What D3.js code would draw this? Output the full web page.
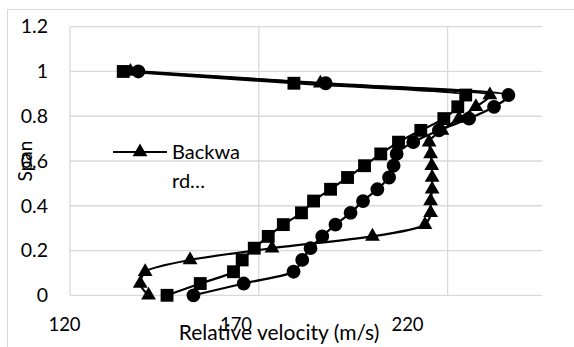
<!DOCTYPE html>
<html>
<head>
<meta charset="utf-8">
<script src="https://cdn.jsdelivr.net/npm/d3@7"></script>
<style>
  html, body { margin: 0; padding: 0; background: #fff; }
  svg { display: block; }
  text { font-family: Lato, "Open Sans", sans-serif; fill: #000; }
</style>
</head>
<body>
<svg id="chart" width="574" height="347"></svg>
<script>
// Span positions (0 .. 1 in 19 equal steps)
const span = [0, 0.0526, 0.1053, 0.1579, 0.2105, 0.2632, 0.3158, 0.3684, 0.4211, 0.4737,
              0.5263, 0.5789, 0.6316, 0.6842, 0.7368, 0.7895, 0.8421, 0.8947, 0.9474, 1];

// Relative velocity (m/s) per span position, one array per series
const squareVelocity   = [145.7, 154.5, 163.3, 165.6, 168.8, 172.5, 176.5, 181.3, 184.5, 189.0,
                          193.5, 198.0, 202.3, 207.0, 212.9, 219.0, 222.7, 224.8, 179.3, 134.1];
const circleVelocity   = [152.7, 166.0, 179.2, 181.5, 183.7, 186.8, 190.3, 194.3, 197.6, 201.4,
                          204.5, 205.7, 206.5, 210.9, 217.7, 225.7, 232.3, 236.1, 187.7, 138.1];
const backwardVelocity = [140.8, 138.6, 139.9, 151.8, 173.5, 200.1, 214.0, 215.5, 215.5, 215.9,
                          215.9, 215.8, 215.5, 215.1, 218.5, 223.0, 227.5, 231.2, 186.3, 136.0];

const xTicks = [120, 170, 220];
const yTicks = [0, 0.2, 0.4, 0.6, 0.8, 1, 1.2];
const legendLines = ["Backwa", "rd\u2026"];

const svg = d3.select("#chart");

const x = d3.scaleLinear().domain([120, 245]).range([70, 542]);
const y = d3.scaleLinear().domain([0, 1.2]).range([295.3, 26.7]);
// tick labels sit on their own, tighter spacing under the plot
const xLabel = d3.scaleLinear().domain([120, 220]).range([64, 407]);

// chart frame
svg.append("rect")
  .attr("x", 7.5).attr("y", 9.5).attr("width", 580).attr("height", 350)
  .attr("fill", "none").attr("stroke", "#d9d9d9").attr("stroke-width", 1);

// gridlines
const grid = svg.append("g").attr("stroke", "#d9d9d9").attr("stroke-width", 1.3);
grid.selectAll("line.h").data(yTicks).join("line")
  .attr("x1", x(120)).attr("x2", x(245))
  .attr("y1", d => y(d)).attr("y2", d => y(d));
grid.selectAll("line.v").data(xTicks).join("line")
  .attr("x1", d => x(d)).attr("x2", d => x(d))
  .attr("y1", y(0)).attr("y2", y(1.2));

// y axis labels
const yAxis = svg.append("g")
  .attr("transform", "translate(48,0)")
  .call(d3.axisLeft(y).tickValues(yTicks).tickSize(0).tickPadding(0).tickFormat(d3.format("~g")));
yAxis.select(".domain").remove();
yAxis.selectAll("text").style("font-size", "19.5px").style("font-family", "Lato, sans-serif").attr("fill", "#000");

// x axis labels
const xAxis = svg.append("g")
  .attr("transform", "translate(0,318)")
  .call(d3.axisBottom(xLabel).tickValues(xTicks).tickSize(0).tickPadding(0).tickFormat(d3.format("d")));
xAxis.select(".domain").remove();
xAxis.selectAll("text").style("font-size", "18.5px").style("font-family", "Lato, sans-serif").attr("fill", "#000");

// axis titles
svg.append("text")
  .attr("x", 279).attr("y", 340)
  .attr("text-anchor", "middle").style("font-size", "21px")
  .text("Relative velocity (m/s)");
svg.append("text")
  .attr("transform", "translate(32,161) rotate(-90)")
  .attr("text-anchor", "middle").style("font-size", "19px")
  .text("Span");

// series: span rises monotonically along every series, so smooth in y
const series = [
  { values: circleVelocity,   symbol: d3.symbolCircle,   size: 150 },
  { values: squareVelocity,   symbol: d3.symbolSquare,   size: 165 },
  { values: backwardVelocity, symbol: d3.symbolTriangle, size: 95  }
];

const lineGen = d3.line().x(d => x(d[0])).y(d => y(d[1])).curve(d3.curveMonotoneY);

series.forEach(s => {
  const pts = s.values.map((v, i) => [v, span[i]]);
  const g = svg.append("g");
  g.append("path")
    .attr("d", lineGen(pts))
    .attr("fill", "none").attr("stroke", "#000").attr("stroke-width", 2.2);
  g.selectAll("path.m").data(pts).join("path")
    .attr("class", "m")
    .attr("transform", d => `translate(${x(d[0])},${y(d[1])})`)
    .attr("d", d3.symbol().type(s.symbol).size(s.size))
    .attr("fill", "#000");
});

// legend
const legend = svg.append("g");
legend.append("line")
  .attr("x1", 113).attr("x2", 167).attr("y1", 152).attr("y2", 152)
  .attr("stroke", "#000").attr("stroke-width", 2.2);
legend.append("path")
  .attr("transform", "translate(140,152)")
  .attr("d", d3.symbol().type(d3.symbolTriangle).size(95))
  .attr("fill", "#000");
legend.selectAll("text").data(legendLines).join("text")
  .attr("x", 172).attr("y", (d, i) => 159 + i * 29)
  .style("font-size", "20px")
  .text(d => d);
</script>
</body>
</html>
